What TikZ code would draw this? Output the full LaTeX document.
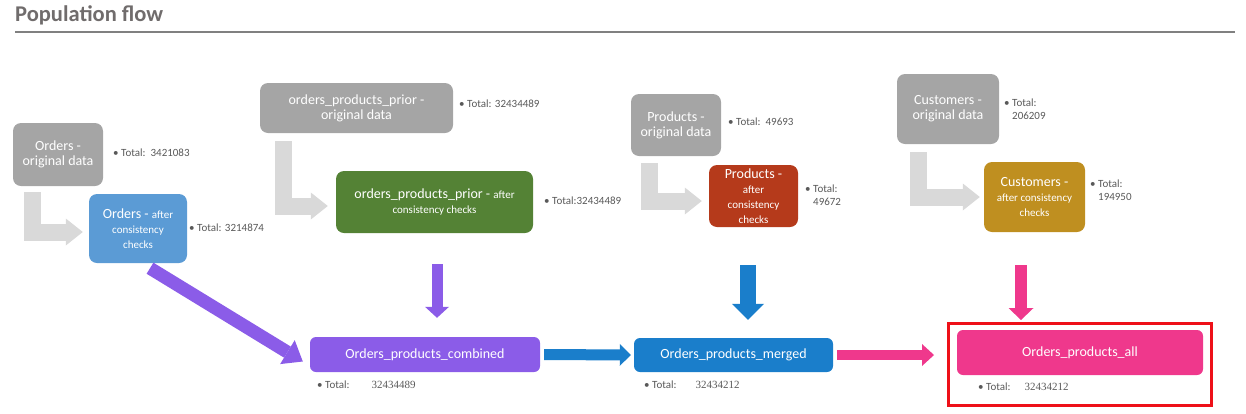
\documentclass[tikz,border=0pt]{standalone}
\usepackage{fontspec}
\setmainfont{Carlito}
\newfontfamily\numfont{Liberation Serif}
\usetikzlibrary{arrows.meta,calc}
\newcommand{\smalltxt}[1]{{\fontsize{11}{13}\selectfont #1}}

\begin{document}
\begin{tikzpicture}[x=1pt,y=-1pt,
    box/.style={rounded corners=8pt, text=white, align=center, inner sep=0pt, font=\fontsize{14}{15}\selectfont},
    total/.style={anchor=west, inner sep=0pt, align=left, text=labelgray, font=\fontsize{11}{13}\selectfont},
    flowarrow/.style={draw=flowgray, line width=17pt, -{Triangle[length=17pt,width=27pt,line width=0pt]}},
    fatarrow/.style n args={3}{line width=#1, -{Triangle[length=#2,width=#3,line width=0pt]}}]
    % Define colors
    \definecolor{origgray}{RGB}{165,165,165}
    \definecolor{flowgray}{RGB}{217,217,217}
    \definecolor{ordblue}{RGB}{91,155,213}
    \definecolor{oppgreen}{RGB}{84,130,53}
    \definecolor{prodred}{RGB}{181,58,27}
    \definecolor{custgold}{RGB}{191,143,32}
    \definecolor{combpurple}{RGB}{139,92,232}
    \definecolor{mergeblue}{RGB}{26,126,203}
    \definecolor{allpink}{RGB}{239,56,140}
    \definecolor{framered}{RGB}{238,16,24}
    \definecolor{labelgray}{RGB}{89,89,89}
    \definecolor{titlegray}{RGB}{112,108,108}
    \definecolor{rulegray}{RGB}{128,128,128}

    \useasboundingbox (0,0) rectangle (1246,413);

    % Title
    \node[anchor=base west, inner sep=0pt, text=titlegray, font=\fontsize{22.5}{26}\selectfont\bfseries] (title) at (15,21) {Population flow};
    \draw[rulegray, line width=2pt] (15,32) -- (1235,32);

    % Original and cleaned tables
    \node[box, fill=origgray, minimum width=90pt, minimum height=63pt] (ordorig) at (58,154.5) {Orders -\\original data};
    \node[box, fill=ordblue, minimum width=98pt, minimum height=69pt] (ordclean) at (138,228.5) {Orders - \smalltxt{after}\\\smalltxt{consistency}\\\smalltxt{checks}};
    \node[box, fill=origgray, minimum width=193pt, minimum height=50pt] (opporig) at (356.5,108) {orders\_products\_prior -\\original data};
    \node[box, fill=oppgreen, minimum width=197pt, minimum height=62pt] (oppclean) at (434.5,202) {orders\_products\_prior - \smalltxt{after}\\\smalltxt{consistency checks}};
    \node[box, fill=origgray, minimum width=90pt, minimum height=62pt] (prodorig) at (676,125) {Products -\\original data};
    \node[box, fill=prodred, minimum width=89pt, minimum height=62pt] (prodclean) at (753.5,196) {Products -\\\smalltxt{after}\\\smalltxt{consistency}\\\smalltxt{checks}};
    \node[box, fill=origgray, minimum width=102pt, minimum height=70pt] (custorig) at (948,109) {Customers -\\original data};
    \node[box, fill=custgold, minimum width=101pt, minimum height=70pt] (custclean) at (1034.5,197) {Customers -\\\smalltxt{after consistency}\\\smalltxt{checks}};

    % Totals
    \node[total] (ordorigtot) at (113,153) {• Total:\ \ 3421083};
    \node[total] (ordcleantot) at (189,228) {• Total: 3214874};
    \node[total] (opporigtot) at (459,104) {• Total: 32434489};
    \node[total] (oppcleantot) at (544,201) {• Total:32434489};
    \node[total] (prodorigtot) at (728,122) {• Total:\ \ 49693};
    \node[total] (prodcleantot) at (805,195) {• Total:\\\phantom{• }49672};
    \node[total] (custorigtot) at (1004,109) {• Total:\\\phantom{• }206209};
    \node[total] (custcleantot) at (1090,190) {• Total:\\\phantom{• }194950};

    % Joined tables
    \node[draw=framered, line width=3pt, minimum width=263pt, minimum height=82pt, inner sep=0pt] (allframe) at (1080,364.5) {};
    \node[box, rounded corners=6pt, fill=combpurple, minimum width=230pt, minimum height=35pt] (combined) at (425,354.5) {Orders\_products\_combined};
    \node[box, rounded corners=6pt, fill=mergeblue, minimum width=199pt, minimum height=34pt] (merged) at (733.5,355) {Orders\_products\_merged};
    \node[box, rounded corners=6pt, fill=allpink, minimum width=246pt, minimum height=45pt] (allprod) at (1080,352.5) {Orders\_products\_all};
    \node[total] (combinedtot) at (317,385) {• Total:\hspace{22pt}{\numfont 32434489}};
    \node[total] (mergedtot) at (644,385) {• Total:\hspace{19pt}{\numfont 32434212}};
    \node[total] (allprodtot) at (978,387) {• Total:\hspace{14pt}{\numfont 32434212}};

    % Cleaning steps
    \draw[flowarrow] ([shift={(19.5,6)}]ordorig.south west) |- ([shift={(-6,3.5)}]ordclean.west);
    \draw[flowarrow] ([shift={(23.5,8)}]opporig.south west) |- ([shift={(-8,4)}]oppclean.west);
    \draw[flowarrow] ([shift={(19,7)}]prodorig.south west) |- ([shift={(-7,5)}]prodclean.west);
    \draw[flowarrow] ([shift={(22,8)}]custorig.south west) |- ([shift={(-4,0)}]custclean.west);

    % Joins
    \draw[combpurple, fatarrow={13pt}{18pt}{28pt}] ([shift={(12,5)}]ordclean.south) -- ([shift={(-7,7)}]combined.west);
    \draw[combpurple, fatarrow={11pt}{11pt}{24pt}] ([shift={(2.5,31)}]oppclean.south) -- ($(oppclean.south |- combined.north)+(2.5,-19)$);
    \draw[mergeblue, fatarrow={11pt}{11pt}{22pt}] ([shift={(4,0)}]combined.east) -- ([shift={(-3,0)}]merged.west);
    \draw[mergeblue, fatarrow={16pt}{16pt}{32pt}] ([shift={(-5.5,38)}]prodclean.south) -- ($(prodclean.south |- merged.north)+(-5.5,-18)$);
    \draw[allpink, fatarrow={10pt}{12pt}{22pt}] ([shift={(4,0)}]merged.east) -- ($(allframe.west |- merged.east)+(-13,0)$);
    \draw[allpink, fatarrow={12pt}{12pt}{25pt}] ([shift={(-13.5,33)}]custclean.south) -- ($(custclean.south |- allframe.north)+(-13.5,-2)$);
\end{tikzpicture}
\end{document}
